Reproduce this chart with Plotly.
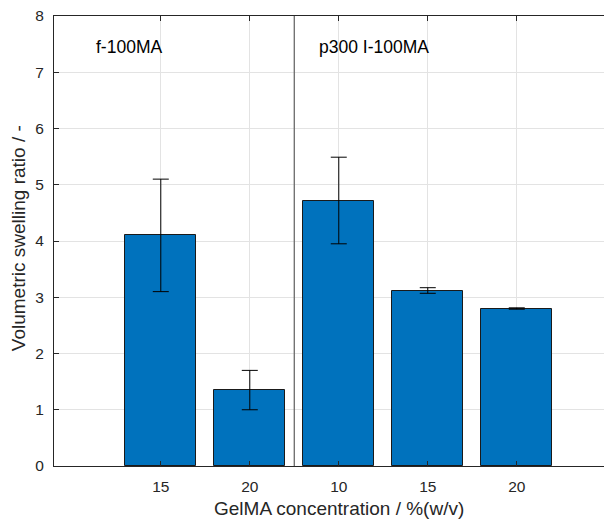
import plotly.graph_objects as go

positions = [1, 2, 3, 4, 5]
tick_labels = ["15", "20", "10", "15", "20"]
swelling = [4.1, 1.35, 4.72, 3.12, 2.80]
errors = [1.0, 0.35, 0.77, 0.05, 0.012]
group_labels = ["f-100MA", "p300 I-100MA"]
group_label_x = [0.25, 2.75]
group_label_y = 7.45
divider_x = 2.5

axis_color = "#262626"
font_family = "Liberation Sans, Arial, Helvetica, sans-serif"

fig = go.Figure()
fig.add_trace(go.Bar(
    x=positions, y=swelling, width=0.8,
    marker=dict(color="#0072BD", line=dict(color="#1a1a1a", width=1)),
    error_y=dict(type="data", array=errors, visible=True,
                 color="#000000", thickness=1, width=8),
    showlegend=False,
))

fig.add_shape(type="line", xref="x", yref="paper", x0=divider_x, x1=divider_x,
              y0=0, y1=1, line=dict(color="#6a6a6a", width=1.3), layer="above")

for t, x in zip(group_labels, group_label_x):
    fig.add_annotation(x=x, y=group_label_y, xref="x", yref="y", text=t,
                       showarrow=False, xanchor="left", yanchor="middle",
                       font=dict(size=17.5, color="#000000", family=font_family))

fig.add_annotation(x=3.0, xref="x", y=0, yref="paper", yshift=-42,
                   text="GelMA concentration / %(w/v)", showarrow=False,
                   xanchor="center", yanchor="middle",
                   font=dict(size=19, color=axis_color, family=font_family))
fig.add_annotation(x=0, xref="paper", xshift=-36, y=4.05, yref="y",
                   text="Volumetric swelling ratio / -", showarrow=False,
                   textangle=-90, xanchor="center", yanchor="middle",
                   font=dict(size=19, color=axis_color, family=font_family))

fig.update_layout(
    width=604, height=513,
    margin=dict(l=46, r=0, t=8, b=55),
    plot_bgcolor="white", paper_bgcolor="white",
    font=dict(family=font_family, size=15, color=axis_color),
    bargap=0,
    xaxis=dict(
        range=[-0.2, 6.07], tickvals=positions, ticktext=tick_labels,
        ticks="inside", ticklen=5, tickcolor=axis_color, tickwidth=1,
        showline=True, linecolor=axis_color, linewidth=1, mirror="ticks",
        showgrid=True, gridcolor="#e3e3e3", gridwidth=1,
        zeroline=False, tickfont=dict(size=15.5, color=axis_color),
        ticklabelstandoff=6,
    ),
    yaxis=dict(
        range=[0, 8], tickvals=list(range(0, 9)),
        ticks="inside", ticklen=5, tickcolor=axis_color, tickwidth=1,
        showline=True, linecolor=axis_color, linewidth=1, mirror=False,
        showgrid=True, gridcolor="#e3e3e3", gridwidth=1,
        zeroline=False, tickfont=dict(size=15.5, color=axis_color),
        ticklabelstandoff=6, ticklabeloverflow="allow",
    ),
)

fig.write_html("out.html")
